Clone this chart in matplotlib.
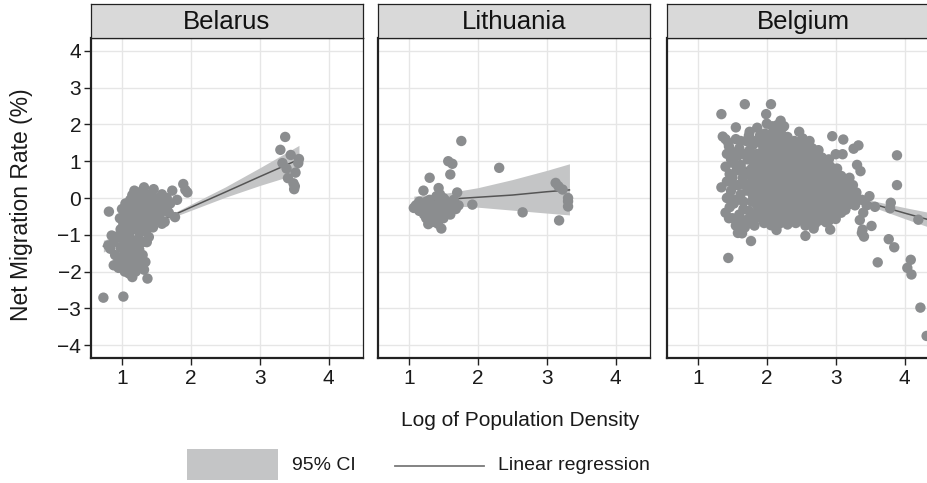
import matplotlib
matplotlib.use("Agg")
import matplotlib.pyplot as plt
from matplotlib.patches import Rectangle
from matplotlib.lines import Line2D

plt.rcParams['font.family'] = ['Liberation Sans', 'DejaVu Sans']

countries = ["Belarus", "Lithuania", "Belgium"]
x_ticks = [1, 2, 3, 4]
y_ticks = [-4, -3, -2, -1, 0, 1, 2, 3, 4]

# points (log density, net migration %)
belarus_pts = [
    (0.73, -2.71), (1.02, -2.68), (0.81, -0.37),
    (0.80, -1.29), (0.85, -1.02), (0.88, -1.20), (0.92, -1.05), (0.83, -1.38), (0.90, -1.55),
    (0.88, -1.83), (0.95, -1.70), (1.00, -1.60), (1.05, -1.45), (1.10, -2.05), (1.12, -1.85),
    (1.15, -1.42), (1.18, -1.65), (1.20, -2.00), (1.15, -2.15), (1.25, -1.80), (1.28, -1.55),
    (1.34, -1.74), (1.37, -2.19), (1.32, -1.95), (1.05, -1.25), (1.00, -1.10),
    (1.24, -1.11), (1.30, -1.20), (1.39, -1.06), (1.36, -1.20), (1.10, -1.00), (1.15, -1.15),
    (0.98, -0.85), (1.02, -0.70), (1.05, -0.55), (1.08, -0.40), (1.10, -0.20), (1.12, -0.05),
    (1.15, 0.08), (1.20, -0.10), (1.22, -0.30), (1.18, -0.50), (1.25, -0.65), (1.28, -0.45),
    (1.30, -0.20), (1.32, 0.29), (1.35, 0.05), (1.38, -0.15), (1.40, -0.35), (1.42, -0.55),
    (1.45, -0.80), (1.46, 0.24), (1.48, 0.00), (1.50, -0.25), (1.52, -0.45), (1.55, -0.10),
    (1.58, 0.10), (1.60, -0.35), (1.62, -0.20), (1.65, 0.00), (1.68, -0.40), (1.70, -0.15),
    (1.73, 0.20), (1.77, -0.52), (1.80, -0.05), (1.89, 0.38), (1.95, 0.15), (1.92, 0.22),
    (1.12, -0.75), (1.20, -0.85), (1.26, -0.95), (1.33, -0.75), (1.08, -0.90), (1.15, -0.30),
    (1.25, 0.15), (1.28, -0.05), (1.35, -0.45), (1.40, 0.10), (1.43, -0.10), (1.05, -0.15),
    (1.00, -0.30), (0.97, -0.55), (1.18, 0.20), (1.22, 0.05), (1.30, -0.60), (1.38, -0.65),
    (1.47, -0.60), (1.55, -0.55), (1.62, -0.65),
    (1.08, -1.60), (1.12, -1.30), (1.22, -1.35), (1.05, -1.80), (0.95, -1.90), (1.20, -1.55),
    (1.02, -0.95), (1.08, -1.15), (1.12, -0.60), (1.18, -0.70), (1.22, -0.20), (1.28, -0.80),
    (1.32, -0.35), (1.35, -0.90), (1.42, -0.30), (1.44, 0.00), (1.50, -0.40), (1.56, -0.25),
    (1.58, -0.70), (1.65, -0.30), (1.10, -1.70), (1.25, -1.40), (1.30, -1.55), (1.18, -1.80),
    (0.98, -1.35), (1.04, -2.00),
    (3.37, 1.66), (3.30, 1.31), (3.45, 1.17), (3.57, 1.06), (3.56, 0.95), (3.33, 0.95),
    (3.39, 0.80), (3.52, 0.69), (3.41, 0.54), (3.49, 0.40), (3.50, 0.24), (3.51, 0.32),
]

lithuania_pts = [
    (1.76, 1.55), (1.57, 1.00), (1.63, 0.93), (1.60, 0.64), (1.30, 0.55), (2.31, 0.82),
    (1.21, 0.20), (1.43, 0.27), (1.70, 0.15), (1.92, -0.18), (2.65, -0.39),
    (3.13, 0.41), (3.17, 0.32), (3.23, 0.23), (3.31, 0.00), (3.31, -0.09), (3.31, -0.23),
    (3.18, -0.61), (1.47, -0.83), (1.28, -0.71), (1.07, -0.27),
    (1.10, -0.20), (1.15, -0.10), (1.15, -0.35), (1.20, -0.25), (1.22, -0.45), (1.25, -0.10),
    (1.25, -0.55), (1.28, -0.30), (1.30, -0.05), (1.32, -0.50), (1.35, -0.20), (1.35, -0.65),
    (1.38, -0.35), (1.40, 0.05), (1.40, -0.55), (1.42, -0.15), (1.45, -0.40), (1.45, 0.10),
    (1.48, -0.25), (1.50, -0.55), (1.52, -0.05), (1.55, -0.35), (1.58, -0.15), (1.60, -0.45),
    (1.62, -0.25), (1.65, -0.05), (1.68, -0.30), (1.72, -0.20), (1.30, -0.35), (1.18, -0.15),
    (1.25, -0.40), (1.38, -0.50), (1.50, 0.00), (1.33, -0.60), (1.42, -0.70),
]

belgium_pts = [
    # upper outliers
    (1.34, 2.28), (1.68, 2.55), (2.06, 2.55), (1.99, 2.28), (1.55, 1.92), (1.75, 1.80),
    (1.86, 1.91), (1.92, 1.48), (1.36, 1.67), (2.47, 1.80), (2.20, 2.10), (2.25, 1.95),
    # core
    (2.00, 2.02), (2.08, 1.95), (2.15, 1.98), (2.22, 1.90),
    (1.97, 1.75), (2.05, 1.72), (2.14, 1.78), (2.22, 1.70), (2.30, 1.66), (2.52, 1.62), (2.62, 1.55),
    (2.00, 1.62), (2.10, 1.60), (2.18, 1.63), (2.27, 1.56), (2.40, 1.55),
    (1.96, 1.50), (2.04, 1.45), (2.12, 1.52), (2.20, 1.48), (2.28, 1.42), (2.36, 1.50), (2.44, 1.40),
    (2.55, 1.45), (2.66, 1.35), (2.75, 1.30),
    (1.98, 1.38), (2.08, 1.36), (2.17, 1.40), (2.26, 1.34), (2.36, 1.38), (2.48, 1.33), (2.60, 1.30),
    (2.71, 1.25),
    (1.94, 1.28), (2.02, 1.32), (2.10, 1.25), (2.18, 1.30), (2.26, 1.22), (2.34, 1.28), (2.42, 1.20),
    (2.50, 1.25), (2.58, 1.18), (2.68, 1.15), (2.80, 1.10), (2.90, 1.05),
    (1.95, 1.17), (2.05, 1.15), (2.15, 1.18), (2.25, 1.12), (2.35, 1.16), (2.45, 1.10), (2.55, 1.14),
    (2.65, 1.07), (2.76, 1.10), (2.86, 0.98),
    (1.92, 1.05), (2.00, 1.00), (2.08, 1.08), (2.16, 1.02), (2.24, 1.06), (2.32, 0.98), (2.40, 1.04),
    (2.48, 0.96), (2.56, 1.02), (2.64, 0.94), (2.72, 1.00), (2.82, 0.90), (2.92, 0.86), (3.02, 0.80),
    (1.93, 0.92), (2.03, 0.90), (2.13, 0.93), (2.23, 0.88), (2.33, 0.91), (2.43, 0.86), (2.53, 0.90),
    (2.63, 0.84), (2.73, 0.88), (2.85, 0.80), (2.96, 0.76),
    (1.90, 0.80), (1.98, 0.75), (2.06, 0.82), (2.14, 0.76), (2.22, 0.80), (2.30, 0.74), (2.38, 0.80),
    (2.46, 0.72), (2.54, 0.78), (2.62, 0.70), (2.70, 0.76), (2.78, 0.68), (2.88, 0.72), (2.98, 0.64),
    (3.08, 0.60),
    (1.90, 0.67), (2.00, 0.64), (2.10, 0.68), (2.20, 0.62), (2.30, 0.66), (2.40, 0.61), (2.50, 0.65),
    (2.60, 0.59), (2.70, 0.63), (2.81, 0.58), (2.92, 0.56), (3.03, 0.54), (3.12, 0.52),
    (1.88, 0.55), (1.96, 0.50), (2.04, 0.57), (2.12, 0.52), (2.20, 0.56), (2.28, 0.50), (2.36, 0.55),
    (2.44, 0.48), (2.52, 0.54), (2.60, 0.47), (2.68, 0.52), (2.76, 0.45), (2.86, 0.50), (2.96, 0.42),
    (3.06, 0.46), (3.16, 0.38),
    (1.88, 0.42), (1.98, 0.39), (2.08, 0.43), (2.18, 0.37), (2.28, 0.41), (2.38, 0.36), (2.48, 0.40),
    (2.58, 0.34), (2.68, 0.39), (2.79, 0.33), (2.90, 0.36), (3.00, 0.31), (3.10, 0.30), (3.20, 0.28),
    (1.86, 0.30), (1.94, 0.25), (2.02, 0.32), (2.10, 0.27), (2.18, 0.31), (2.26, 0.25), (2.34, 0.30),
    (2.42, 0.24), (2.50, 0.29), (2.58, 0.22), (2.66, 0.28), (2.74, 0.21), (2.84, 0.26), (2.94, 0.18),
    (3.04, 0.24), (3.14, 0.16), (3.22, 0.20),
    (1.86, 0.17), (1.96, 0.14), (2.06, 0.18), (2.16, 0.12), (2.26, 0.16), (2.36, 0.11), (2.46, 0.15),
    (2.56, 0.09), (2.66, 0.14), (2.77, 0.08), (2.88, 0.12), (2.98, 0.06), (3.08, 0.10), (3.18, 0.06),
    (3.27, 0.08),
    (1.84, 0.05), (1.92, 0.00), (2.00, 0.07), (2.08, 0.02), (2.16, 0.06), (2.24, 0.00), (2.32, 0.05),
    (2.40, -0.01), (2.48, 0.04), (2.56, -0.02), (2.64, 0.03), (2.72, -0.03), (2.82, 0.02), (2.92, -0.04),
    (3.02, 0.01), (3.12, -0.05), (3.22, -0.02), (3.30, -0.08),
    (1.85, -0.08), (1.95, -0.12), (2.05, -0.07), (2.15, -0.13), (2.25, -0.09), (2.35, -0.14),
    (2.45, -0.10), (2.55, -0.15), (2.65, -0.11), (2.76, -0.16), (2.87, -0.12), (2.98, -0.17),
    (3.08, -0.14), (3.18, -0.18), (3.28, -0.20),
    (1.86, -0.20), (1.94, -0.25), (2.02, -0.18), (2.10, -0.23), (2.18, -0.19), (2.26, -0.25),
    (2.34, -0.20), (2.42, -0.26), (2.50, -0.21), (2.58, -0.27), (2.66, -0.22), (2.74, -0.28),
    (2.84, -0.23), (2.94, -0.30), (3.04, -0.25), (3.14, -0.32),
    (1.88, -0.33), (1.98, -0.37), (2.08, -0.32), (2.18, -0.38), (2.28, -0.34), (2.38, -0.39),
    (2.48, -0.35), (2.58, -0.40), (2.68, -0.36), (2.78, -0.41), (2.88, -0.38), (2.98, -0.43),
    (3.08, -0.40),
    (1.90, -0.45), (1.98, -0.50), (2.06, -0.44), (2.14, -0.49), (2.22, -0.45), (2.30, -0.51),
    (2.38, -0.46), (2.46, -0.52), (2.54, -0.47), (2.62, -0.53), (2.70, -0.48), (2.80, -0.55),
    (2.90, -0.50), (3.00, -0.57),
    (1.94, -0.58), (2.04, -0.62), (2.14, -0.57), (2.24, -0.63), (2.34, -0.59), (2.44, -0.64),
    (2.54, -0.60), (2.64, -0.65), (2.76, -0.61), (2.90, -0.62),
    (1.96, -0.68), (2.06, -0.74), (2.18, -0.70), (2.30, -0.72), (2.42, -0.68), (2.56, -0.75),
    (2.70, -0.70), (2.86, -0.66),
    # left part
    (1.40, 1.60), (1.45, 1.40), (1.42, 1.20), (1.48, 1.05), (1.40, 0.85), (1.46, 0.65), (1.42, 0.45),
    (1.34, 0.29), (1.48, 0.20), (1.42, 0.00), (1.46, -0.25), (1.40, -0.40), (1.50, -0.55),
    (1.55, -0.75), (1.58, -0.95), (1.64, -0.96), (1.77, -1.17), (1.44, -1.63),
    (1.55, 1.60), (1.60, 1.35), (1.58, 1.15), (1.62, 0.90), (1.56, 0.75), (1.65, 0.55), (1.58, 0.35),
    (1.62, 0.10), (1.56, -0.05), (1.66, -0.30), (1.60, -0.45), (1.70, -0.60),
    (1.70, 1.55), (1.75, 1.30), (1.72, 1.05), (1.78, 0.80), (1.70, 0.65), (1.76, 0.40), (1.72, 0.20),
    (1.78, -0.10), (1.74, -0.35), (1.80, -0.50), (1.82, -0.75), (1.68, -0.80),
    (1.84, 1.55), (1.86, 1.20), (1.82, 0.95), (1.85, 0.70), (1.88, -0.30),
    (1.44, 1.50), (1.50, 1.25), (1.52, 0.95), (1.50, 0.55), (1.52, 0.35), (1.46, 0.05), (1.52, -0.15),
    (1.45, -0.55), (1.62, 1.55), (1.66, 1.20), (1.64, 0.75), (1.68, 0.35), (1.66, -0.10), (1.62, -0.65),
    (1.80, 1.45), (1.78, 1.15), (1.80, 0.55), (1.82, 0.25), (1.80, 0.05), (1.84, -0.55), (1.74, -0.65),
    (1.74, 1.70), (1.90, 1.70),
    # right tail and outliers
    (2.95, 1.68), (3.11, 1.59), (3.26, 1.34), (3.33, 1.43), (3.00, 1.19), (3.10, 1.19),
    (3.31, 0.90), (3.36, 0.73), (3.20, 0.55), (3.25, 0.35), (3.30, 0.15),
    (3.89, 1.16), (3.89, 0.35), (3.49, 0.05), (3.80, -0.13), (3.57, -0.24), (3.79, -0.28),
    (3.38, -0.05), (4.20, -0.59), (3.52, -0.76), (3.39, -0.86), (3.41, -1.05), (3.38, -0.95),
    (2.92, -0.86), (2.56, -1.03), (2.68, -0.83), (2.14, -0.87), (3.77, -1.12), (3.85, -1.34),
    (3.61, -1.75), (4.09, -1.68), (4.04, -1.90), (4.10, -2.08), (4.23, -2.98), (4.32, -3.75),
    (3.40, -0.40), (3.45, -0.20), (3.35, -0.60),
]

# regression line and 95% CI band
belarus_fit_x = [0.73, 1.2, 1.8, 2.5, 3.0, 3.57]
belarus_fit_y = [-1.31, -0.92, -0.42, 0.16, 0.58, 1.05]
belarus_ci_lo = [-1.47, -1.00, -0.48, 0.02, 0.34, 0.67]
belarus_ci_hi = [-1.15, -0.84, -0.36, 0.30, 0.82, 1.43]

lithuania_fit_x = [1.07, 1.5, 2.0, 2.5, 3.0, 3.33]
lithuania_fit_y = [-0.10, -0.04, 0.02, 0.08, 0.17, 0.22]
lithuania_ci_lo = [-0.25, -0.20, -0.25, -0.33, -0.41, -0.46]
lithuania_ci_hi = [0.05, 0.12, 0.28, 0.50, 0.75, 0.93]

belgium_fit_x = [1.45, 2.0, 2.5, 3.0, 3.5, 4.0, 4.35]
belgium_fit_y = [0.94, 0.65, 0.39, 0.12, -0.14, -0.41, -0.59]
belgium_ci_lo = [0.85, 0.60, 0.35, 0.07, -0.22, -0.56, -0.79]
belgium_ci_hi = [1.03, 0.70, 0.43, 0.17, -0.06, -0.26, -0.39]

panels = [
    (belarus_pts, belarus_fit_x, belarus_fit_y, belarus_ci_lo, belarus_ci_hi),
    (lithuania_pts, lithuania_fit_x, lithuania_fit_y, lithuania_ci_lo, lithuania_ci_hi),
    (belgium_pts, belgium_fit_x, belgium_fit_y, belgium_ci_lo, belgium_ci_hi),
]

W, H = 928, 483
fig = plt.figure(figsize=(W / 100, H / 100), dpi=100)

point_col = "#8b8d8f"
band_col = "#c4c5c6"
line_col = "#555555"
edge_col = "#222222"

lefts = [91, 378, 667]
pw = 272
p_top, p_bot = 38, 358
s_top = 4

for i, (name, (pts, fx, fy, lo, hi)) in enumerate(zip(countries, panels)):
    left = lefts[i]
    ax = fig.add_axes([left / W, 1 - p_bot / H, pw / W, (p_bot - p_top) / H])
    ax.fill_between(fx, lo, hi, color=band_col, lw=0, zorder=2)
    ax.plot(fx, fy, color=line_col, lw=1.1, zorder=3)
    xs = [p[0] for p in pts]
    ys = [p[1] for p in pts]
    ax.scatter(xs, ys, s=56, color=point_col, edgecolors="none", zorder=4)
    ax.set_xlim(0.55, 4.5)
    ax.set_ylim(-4.35, 4.35)
    ax.set_xticks(x_ticks)
    ax.set_yticks(y_ticks)
    ax.grid(True, color="#e6e6e6", lw=1.0, zorder=0)
    ax.set_axisbelow(True)
    for sp in ax.spines.values():
        sp.set_color(edge_col)
        sp.set_linewidth(0.9)
    ax.spines["left"].set_linewidth(1.6)
    ax.spines["bottom"].set_linewidth(1.6)
    ax.tick_params(axis="x", length=5, width=1.0, color=edge_col, labelsize=15,
                   labelcolor="#1a1a1a", pad=3)
    if i == 0:
        ax.tick_params(axis="y", length=5, width=1.0, color=edge_col, labelsize=15,
                       labelcolor="#1a1a1a", pad=2)
    else:
        ax.tick_params(axis="y", length=0, labelleft=False)

    # facet strip
    sax = fig.add_axes([left / W, 1 - p_top / H, pw / W, (p_top - s_top) / H])
    sax.set_facecolor("#d9d9d9")
    sax.set_xticks([])
    sax.set_yticks([])
    for sp in sax.spines.values():
        sp.set_color(edge_col)
        sp.set_linewidth(0.9)
    sax.text(0.5, 0.47, name, ha="center", va="center", fontsize=18.5,
             color="#111111", transform=sax.transAxes)

fig.text(520 / W, 1 - 420 / H, "Log of Population Density", ha="center", va="center",
         fontsize=15, color="#1a1a1a")
fig.text(22 / W, 1 - 205 / H, "Net Migration Rate (%)", ha="center", va="center",
         rotation=90, fontsize=16.5, color="#1a1a1a")

# legend
fig.add_artist(Rectangle((187 / W, 1 - 480 / H), 91 / W, 31 / H, transform=fig.transFigure,
                         facecolor=band_col, edgecolor="none"))
fig.text(292 / W, 1 - 466 / H, "95% CI", ha="left", va="center", fontsize=14, color="#1a1a1a")
fig.add_artist(Line2D([395 / W, 484 / W], [1 - 466 / H, 1 - 466 / H], transform=fig.transFigure,
                      color="#7a7a7a", lw=1.3))
fig.text(498 / W, 1 - 466 / H, "Linear regression", ha="left", va="center", fontsize=14,
         color="#1a1a1a")

fig.savefig("out.png", dpi=100)
